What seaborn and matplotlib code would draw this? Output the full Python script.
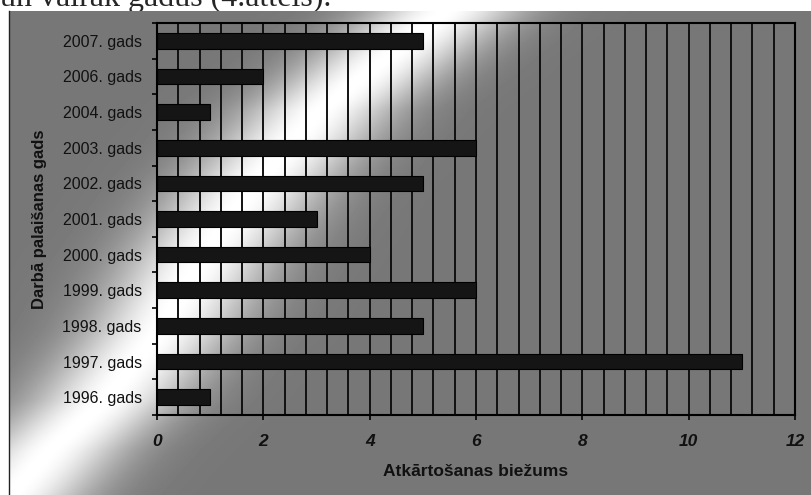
import numpy as np
import pandas as pd
import seaborn as sns
import matplotlib.pyplot as plt

# data
years = ['2007. gads', '2006. gads', '2004. gads', '2003. gads', '2002. gads',
         '2001. gads', '2000. gads', '1999. gads', '1998. gads', '1997. gads',
         '1996. gads']
counts = [5, 2, 1, 6, 5, 3, 4, 6, 5, 11, 1]

x_ticks = [0, 2, 4, 6, 8, 10, 12]
x_label = 'Atkārtošanas biežums'
y_label = 'Darbā palaišanas gads'
caption_tail = 'un vairāk gadus (4.attēls).'

sns.set_style('white')
plt.rcParams['font.family'] = ['Liberation Sans', 'DejaVu Sans']

W, H = 811, 495
fig = plt.figure(figsize=(W / 100, H / 100), dpi=100)

# clipped line of document text above the chart
fig.text(0, 1 - 6 / H, caption_tail, family=['Liberation Serif', 'DejaVu Serif'],
         fontsize=23, va='baseline', ha='left', zorder=-1)

#### gradient background of the chart object (grey with a diagonal light band)
bx0, by0 = 9, 11
bg = fig.add_axes([bx0 / W, 0, (W - bx0) / W, (H - by0) / H])
px = np.arange(bx0, W)
py = np.arange(by0, H)
PX, PY = np.meshgrid(px, py)
band_y = [0, 15, 110, 190, 260, 330, 400, 450, 495]
band_x = [455, 440, 320, 250, 200, 160, 105, 50, 10]
xc = np.interp(PY, band_y, band_x)
shade = 119 + 136 * np.exp(-0.5 * ((PX - xc) / 55) ** 2)
bg.imshow(shade, cmap='gray', vmin=0, vmax=255, aspect='auto',
          interpolation='bilinear', extent=(0, 1, 0, 1))
bg.set_xticks([])
bg.set_yticks([])
for s in ['top', 'right', 'bottom']:
    bg.spines[s].set_visible(False)
bg.spines['left'].set_color('#222222')
bg.spines['left'].set_linewidth(1)

#### the bar chart itself
L, R, T, B = 157, 795, 23, 415
ax = fig.add_axes([L / W, (H - B) / H, (R - L) / W, (B - T) / H])
ax.set_facecolor('none')

df = pd.DataFrame({'year': years, 'count': counts})
sns.barplot(data=df, x='count', y='year', orient='h', color='#151515',
            saturation=1, width=0.44, edgecolor='black', linewidth=0.8, ax=ax)

ax.set_xlim(0, 12)
ax.set_ylim(len(years) - 0.5, -0.5)
ax.set_xticks(x_ticks)
ax.set_xticks(np.arange(0, 12.01, 0.4), minor=True)
ax.set_yticks(np.arange(-0.5, len(years), 1), minor=True)
ax.set_axisbelow(True)
# minor ticks that fall on a major tick are dropped, so grid both
ax.grid(which='both', axis='x', color='#111111', linewidth=1.4)
ax.grid(which='major', axis='y', visible=False)

ax.tick_params(axis='x', which='major', direction='out', length=3.6, width=1.2,
               color='black', pad=10, bottom=True)
ax.tick_params(axis='x', which='minor', length=0)
ax.tick_params(axis='y', which='minor', direction='out', length=3.6, width=1.2,
               color='black', left=True)
ax.tick_params(axis='y', which='major', length=0, pad=11, labelsize=11.5,
               labelcolor='#111111')

for lab in ax.get_xticklabels():
    lab.set_fontweight('bold')
    lab.set_fontstyle('italic')
    lab.set_fontsize(12.5)
    lab.set_color('#111111')

for s in ax.spines.values():
    s.set_visible(True)
    s.set_color('black')
    s.set_linewidth(1.5)

ax.set_xlabel(x_label, fontsize=12.5, fontweight='bold', color='#111111')
ax.xaxis.set_label_coords(0.5, -0.125)
ax.set_ylabel(y_label, fontsize=12, fontweight='bold', color='#111111')
ax.yaxis.set_label_coords(-0.172, 0.5)

fig.savefig('out.png', dpi=100)
